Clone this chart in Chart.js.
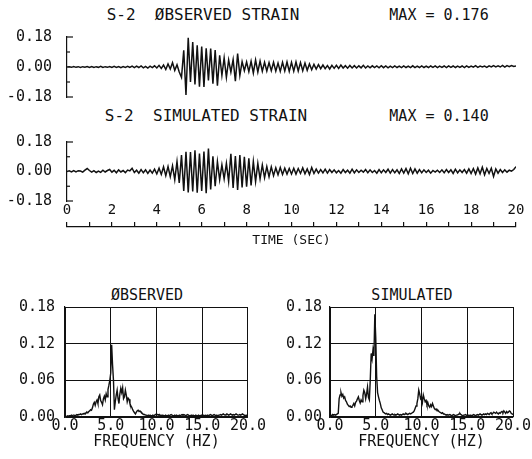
<!DOCTYPE html>
<html lang="en">
<head>
<meta charset="UTF-8">
<title>S-2 Observed and Simulated Strain</title>
<script src="https://cdn.jsdelivr.net/npm/chart.js"></script>
<style>
    body { margin: 0; background: #fff; width: 532px; height: 459px; overflow: hidden; position: relative; }
    canvas { position: absolute; }
    .lbl {
        position: absolute;
        font-family: 'DejaVu Sans Mono', monospace;
        color: #111;
        line-height: 1;
        white-space: pre;
        transform: translate(-50%, -50%);
    }
</style>
</head>
<body>
<div class="lbl" style="left:203px; top:15px; font-size:16px;">S-2  ØBSERVED STRAIN</div>
<div class="lbl" style="left:439px; top:15px; font-size:15px;">MAX = 0.176</div>
<div class="lbl" style="left:206px; top:116px; font-size:16px;">S-2  SIMULATED STRAIN</div>
<div class="lbl" style="left:439px; top:116px; font-size:15px;">MAX = 0.140</div>
<div class="lbl" style="left:147px; top:295px; font-size:15px;">ØBSERVED</div>
<div class="lbl" style="left:412px; top:295px; font-size:15px;">SIMULATED</div>

<canvas id="obsStrain" width="532" height="108" style="left:0; top:13px;"></canvas>
<canvas id="simStrain" width="532" height="107" style="left:0; top:118px;"></canvas>
<canvas id="timeAxis" width="532" height="52" style="left:0; top:200px;"></canvas>
<canvas id="obsSpec" width="266" height="169" style="left:0; top:288px;"></canvas>
<canvas id="simSpec" width="266" height="167" style="left:266px; top:290px;"></canvas>

<script>
    const sampleStep = 0.1;   // seconds between strain samples
    const freqStep = 0.1;     // Hz between spectrum samples

    const strainTicks = [-0.18, 0, 0.18];
    const timeTicks = [0, 2, 4, 6, 8, 10, 12, 14, 16, 18, 20];
    const timeMinor = [1, 3, 5, 7, 9, 11, 13, 15, 17, 19];
    const freqTicks = [0, 5, 10, 15, 20];
    const ampTicks = [0, 0.06, 0.12, 0.18];

    const observedStrain = [
        0.000, 0.002, -0.002, 0.003, -0.002, 0.002, -0.003, 0.002, -0.001, 0.003,
        -0.002, 0.003, -0.003, 0.002, -0.002, 0.004, -0.003, 0.002, -0.002, 0.003,
        -0.003, 0.004, -0.002, 0.003, -0.004, 0.003, -0.002, 0.004, -0.003, 0.005,
        -0.004, 0.005, -0.003, 0.006, -0.005, 0.004, -0.006, 0.005, -0.004, 0.007,
        -0.006, 0.010, -0.008, 0.012, -0.015, 0.018, -0.012, 0.026, -0.020, 0.014,
        -0.030, -0.062, 0.100, -0.168, 0.176, -0.090, 0.150, -0.105, 0.130, -0.118,
        0.122, -0.120, 0.112, -0.080, 0.110, -0.100, 0.102, -0.112, 0.070, -0.050,
        0.055, -0.062, 0.042, -0.030, 0.045, -0.085, 0.080, -0.050, 0.032, -0.022,
        0.030, -0.028, 0.034, -0.036, 0.042, -0.030, 0.036, -0.025, 0.028, -0.024,
        0.026, -0.022, 0.028, -0.025, 0.024, -0.026, 0.028, -0.024, 0.030, -0.026,
        0.028, -0.025, 0.030, -0.024, 0.026, -0.022, 0.024, -0.020, 0.018, -0.016,
        0.016, -0.012, 0.014, -0.010, 0.012, -0.010, 0.008, -0.012, 0.010, -0.008,
        0.010, -0.008, 0.012, -0.006, 0.008, -0.007, 0.009, -0.006, 0.008, -0.006,
        0.007, -0.005, 0.010, -0.006, 0.006, -0.005, 0.007, -0.004, 0.006, -0.005,
        0.008, -0.004, 0.006, -0.005, 0.005, -0.004, 0.006, -0.003, 0.005, -0.004,
        0.006, -0.003, 0.005, -0.004, 0.007, -0.004, 0.005, -0.003, 0.006, -0.003,
        0.005, -0.003, 0.006, -0.002, 0.007, -0.004, 0.005, -0.002, 0.006, -0.003,
        0.007, -0.002, 0.006, -0.003, 0.005, -0.002, 0.006, -0.003, 0.007, -0.002,
        0.006, -0.001, 0.008, -0.002, 0.005, 0.000, 0.006, -0.002, 0.007, 0.000,
        0.008, 0.001, 0.007, 0.000, 0.009, -0.001, 0.008, 0.002, 0.009, 0.003,
        0.006
    ];

    const simulatedStrain = [
        0.000, 0.004, -0.003, 0.006, -0.002, 0.005, 0.003, -0.004, 0.008, 0.018,
        0.006, -0.004, 0.005, -0.006, 0.003, -0.005, 0.008, -0.003, 0.006, 0.012,
        -0.004, 0.007, -0.008, 0.010, -0.003, 0.006, -0.007, 0.009, 0.004, 0.020,
        -0.006, 0.008, -0.010, 0.012, -0.008, 0.010, -0.012, 0.009, -0.010, 0.014,
        -0.015, 0.020, -0.018, 0.028, -0.025, 0.030, -0.032, 0.034, -0.050, 0.060,
        -0.070, 0.100, -0.118, 0.120, -0.128, 0.118, -0.122, 0.130, -0.130, 0.110,
        -0.118, 0.122, -0.132, 0.140, -0.110, 0.092, -0.090, 0.060, -0.050, 0.040,
        -0.045, 0.050, -0.060, 0.108, -0.100, 0.095, -0.112, 0.100, -0.098, 0.090,
        -0.092, 0.080, -0.085, 0.060, -0.062, 0.050, -0.045, 0.040, -0.038, 0.030,
        -0.032, 0.028, -0.025, 0.022, -0.020, 0.024, -0.018, 0.020, -0.016, 0.018,
        -0.015, 0.020, -0.016, 0.018, -0.012, 0.022, -0.014, 0.016, -0.018, 0.024,
        -0.012, 0.015, -0.010, 0.012, -0.008, 0.014, -0.010, 0.012, -0.006, 0.010,
        -0.008, 0.006, -0.010, 0.012, -0.006, 0.008, -0.010, 0.014, -0.008, 0.010,
        -0.006, 0.008, -0.004, 0.012, -0.008, 0.010, -0.006, 0.006, -0.010, 0.012,
        -0.008, 0.010, -0.006, 0.014, -0.010, 0.012, -0.008, 0.010, -0.012, 0.016,
        -0.010, 0.018, -0.014, 0.020, -0.012, 0.016, -0.010, 0.012, -0.008, 0.010,
        -0.006, 0.008, -0.010, 0.006, -0.004, 0.008, -0.006, 0.010, -0.008, 0.012,
        -0.006, 0.010, -0.012, 0.014, -0.008, 0.010, -0.006, 0.012, -0.010, 0.016,
        -0.012, 0.018, -0.016, 0.022, -0.014, 0.026, -0.020, 0.018, -0.012, 0.020,
        -0.030, 0.016, -0.010, 0.012, -0.006, 0.010, -0.004, 0.008, 0.002, 0.012,
        0.030
    ];

    const observedSpec = [
        0.000, 0.001, 0.001, 0.002, 0.001, 0.002, 0.002, 0.003, 0.002, 0.003,
        0.003, 0.002, 0.003, 0.004, 0.003, 0.004, 0.004, 0.005, 0.004, 0.005,
        0.005, 0.006, 0.005, 0.007, 0.008, 0.007, 0.009, 0.010, 0.012, 0.011,
        0.015, 0.021, 0.024, 0.019, 0.025, 0.028, 0.022, 0.033, 0.036, 0.027,
        0.024, 0.020, 0.030, 0.034, 0.028, 0.038, 0.033, 0.045, 0.052, 0.060,
        0.072, 0.118, 0.085, 0.060, 0.012, 0.025, 0.036, 0.044, 0.030, 0.022,
        0.038, 0.047, 0.040, 0.048, 0.030, 0.033, 0.044, 0.036, 0.025, 0.031,
        0.029, 0.022, 0.018, 0.016, 0.012, 0.009, 0.007, 0.005, 0.008, 0.010,
        0.011, 0.009, 0.010, 0.008, 0.007, 0.005, 0.004, 0.004, 0.003, 0.003,
        0.002, 0.003, 0.002, 0.003, 0.002, 0.002, 0.003, 0.002, 0.003, 0.004,
        0.005, 0.004, 0.003, 0.004, 0.002, 0.003, 0.002, 0.003, 0.002, 0.002,
        0.003, 0.002, 0.002, 0.003, 0.002, 0.003, 0.004, 0.003, 0.002, 0.002,
        0.003, 0.002, 0.003, 0.002, 0.002, 0.003, 0.002, 0.003, 0.004, 0.003,
        0.004, 0.003, 0.002, 0.003, 0.004, 0.003, 0.002, 0.002, 0.003, 0.002,
        0.003, 0.002, 0.002, 0.003, 0.002, 0.002, 0.003, 0.002, 0.002, 0.003,
        0.002, 0.003, 0.002, 0.002, 0.003, 0.002, 0.003, 0.002, 0.003, 0.004,
        0.003, 0.002, 0.003, 0.004, 0.003, 0.002, 0.003, 0.002, 0.003, 0.003,
        0.004, 0.003, 0.004, 0.005, 0.004, 0.003, 0.004, 0.005, 0.004, 0.003,
        0.004, 0.005, 0.004, 0.003, 0.004, 0.003, 0.004, 0.005, 0.004, 0.003,
        0.003, 0.004, 0.003, 0.004, 0.005, 0.004, 0.003, 0.002, 0.003, 0.002,
        0.002
    ];

    const simulatedSpec = [
        0.002, 0.003, 0.002, 0.004, 0.003, 0.004, 0.003, 0.004, 0.005, 0.006,
        0.030, 0.036, 0.040, 0.034, 0.037, 0.031, 0.033, 0.027, 0.025, 0.021,
        0.019, 0.017, 0.018, 0.016, 0.017, 0.019, 0.022, 0.018, 0.024, 0.026,
        0.030, 0.033, 0.027, 0.023, 0.028, 0.025, 0.035, 0.044, 0.040, 0.030,
        0.038, 0.049, 0.032, 0.028, 0.060, 0.104, 0.095, 0.110, 0.100, 0.168,
        0.130, 0.066, 0.040, 0.033, 0.027, 0.022, 0.015, 0.012, 0.008, 0.007,
        0.006, 0.005, 0.006, 0.004, 0.005, 0.004, 0.003, 0.004, 0.005, 0.004,
        0.003, 0.004, 0.003, 0.004, 0.005, 0.004, 0.003, 0.004, 0.003, 0.004,
        0.005, 0.004, 0.005, 0.006, 0.005, 0.004, 0.005, 0.006, 0.005, 0.006,
        0.007, 0.008, 0.010, 0.014, 0.018, 0.022, 0.030, 0.044, 0.038, 0.030,
        0.033, 0.024, 0.036, 0.030, 0.025, 0.027, 0.020, 0.023, 0.018, 0.016,
        0.020, 0.017, 0.022, 0.018, 0.014, 0.012, 0.013, 0.010, 0.011, 0.009,
        0.008, 0.007, 0.006, 0.007, 0.005, 0.005, 0.004, 0.003, 0.004, 0.003,
        0.003, 0.004, 0.003, 0.002, 0.003, 0.004, 0.003, 0.002, 0.003, 0.003,
        0.004, 0.005, 0.006, 0.004, 0.003, 0.002, 0.003, 0.003, 0.004, 0.003,
        0.002, 0.003, 0.002, 0.003, 0.003, 0.002, 0.003, 0.004, 0.003, 0.002,
        0.003, 0.004, 0.003, 0.004, 0.005, 0.004, 0.003, 0.004, 0.005, 0.004,
        0.005, 0.004, 0.006, 0.005, 0.004, 0.006, 0.007, 0.005, 0.006, 0.008,
        0.007, 0.006, 0.008, 0.006, 0.005, 0.007, 0.006, 0.008, 0.009, 0.007,
        0.010, 0.008, 0.006, 0.009, 0.007, 0.008, 0.010, 0.009, 0.006, 0.005,
        0.004
    ];

    const ink = '#111';
    Chart.defaults.font.family = "'DejaVu Sans Mono', monospace";
    Chart.defaults.color = ink;

    const xy = (values, step) => values.map((v, i) => ({ x: i * step, y: v }));

    // "[" shaped y axis: short inward ends and half-way marks
    const bracket = {
        id: 'bracket',
        afterDraw(chart) {
            const y = chart.scales.y;
            const left = chart.chartArea.left;
            const ctx = chart.ctx;
            ctx.save();
            ctx.strokeStyle = ink;
            ctx.lineWidth = 1.2;
            strainTicks.filter(v => v !== 0).forEach(v => {
                const p = y.getPixelForValue(v);
                ctx.beginPath();
                ctx.moveTo(left, p);
                ctx.lineTo(left + 6, p);
                ctx.stroke();
                const h = y.getPixelForValue(v / 2);
                ctx.beginPath();
                ctx.moveTo(left, h);
                ctx.lineTo(left + 3, h);
                ctx.stroke();
            });
            ctx.restore();
        }
    };

    function strainChart(id, values) {
        return new Chart(document.getElementById(id), {
            type: 'line',
            data: {
                datasets: [{
                    data: xy(values, sampleStep),
                    borderColor: ink,
                    borderWidth: 1.5,
                    pointRadius: 0,
                    fill: false
                }]
            },
            options: {
                responsive: false,
                animation: false,
                layout: { padding: { top: 10, right: 16, bottom: 10, left: 0 } },
                plugins: { legend: { display: false }, tooltip: { enabled: false } },
                scales: {
                    x: { type: 'linear', display: false, min: 0, max: 20 },
                    y: {
                        min: -0.18,
                        max: 0.18,
                        afterFit: s => { s.width = 67; },
                        afterBuildTicks: s => { s.ticks = strainTicks.map(v => ({ value: v })); },
                        grid: { drawOnChartArea: false, drawTicks: false },
                        border: { color: ink, width: 1.2 },
                        ticks: { padding: 15, font: { size: 15 }, callback: v => v.toFixed(2) }
                    }
                }
            },
            plugins: [bracket]
        });
    }

    strainChart('obsStrain', observedStrain);
    strainChart('simStrain', simulatedStrain);

    // time axis shared by both traces
    new Chart(document.getElementById('timeAxis'), {
        type: 'line',
        data: { datasets: [] },
        options: {
            responsive: false,
            animation: false,
            layout: { padding: { top: 0, right: 16, bottom: 0, left: 67 } },
            plugins: {
                legend: { display: false },
                tooltip: { enabled: false },
                title: {
                    display: true,
                    position: 'bottom',
                    text: 'TIME (SEC)',
                    font: { size: 13, weight: 'normal' },
                    padding: { top: 2, bottom: 4 }
                }
            },
            scales: {
                x: {
                    type: 'linear',
                    position: 'top',
                    min: 0,
                    max: 20,
                    afterFit: s => { s.height = 27; },
                    afterBuildTicks: s => {
                        s.ticks = timeTicks.concat(timeMinor).sort((a, b) => a - b).map(v => ({ value: v }));
                    },
                    grid: { drawOnChartArea: false, drawTicks: true, tickLength: 5, color: ink, lineWidth: 1.2 },
                    border: { color: ink, width: 1.3 },
                    ticks: {
                        padding: 3,
                        autoSkip: false,
                        maxRotation: 0,
                        font: { size: 14 },
                        callback: v => timeTicks.includes(v) ? String(v) : ''
                    }
                },
                y: { display: false }
            }
        }
    });

    function specChart(id, values, axisWidth, rightPad, labelPad) {
        return new Chart(document.getElementById(id), {
            type: 'line',
            data: {
                datasets: [{
                    data: xy(values, freqStep),
                    borderColor: ink,
                    borderWidth: 1.4,
                    pointRadius: 0,
                    fill: false
                }]
            },
            options: {
                responsive: false,
                animation: false,
                layout: { padding: { top: 10, right: rightPad, bottom: 0, left: 0 } },
                plugins: { legend: { display: false }, tooltip: { enabled: false } },
                scales: {
                    x: {
                        type: 'linear',
                        min: 0,
                        max: 20,
                        afterFit: s => { s.height = 40; },
                        afterBuildTicks: s => { s.ticks = freqTicks.map(v => ({ value: v })); },
                        grid: { color: ink, lineWidth: 1, drawTicks: false },
                        border: { color: ink, width: 1.2 },
                        ticks: { padding: 0, maxRotation: 0, autoSkip: false, font: { size: 15 }, callback: v => v.toFixed(1) },
                        title: {
                            display: true,
                            text: 'FREQUENCY (HZ)',
                            font: { size: 15 },
                            padding: { top: 0, bottom: 6 }
                        }
                    },
                    y: {
                        min: 0,
                        max: 0.18,
                        afterFit: s => { s.width = axisWidth; },
                        afterBuildTicks: s => { s.ticks = ampTicks.map(v => ({ value: v })); },
                        grid: { color: ink, lineWidth: 1, drawTicks: false },
                        border: { color: ink, width: 1.2 },
                        ticks: { padding: labelPad, font: { size: 15 }, callback: v => v.toFixed(2) }
                    }
                }
            }
        });
    }

    specChart('obsSpec', observedSpec, 65, 15, 10);
    specChart('simSpec', simulatedSpec, 64, 19, 8);
</script>
</body>
</html>
